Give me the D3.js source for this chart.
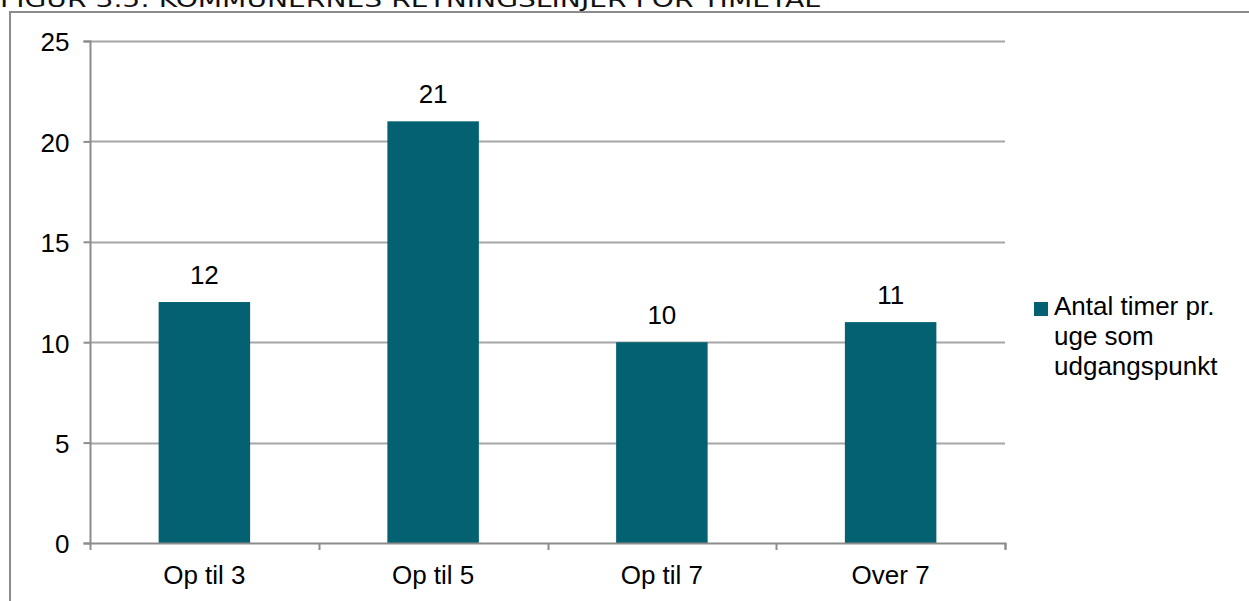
<!DOCTYPE html>
<html><head><meta charset="utf-8">
<script src="https://cdn.jsdelivr.net/npm/d3@7"></script>
<style>html,body{margin:0;padding:0;background:#fff;overflow:hidden}</style>
</head><body>
<svg id="c" width="1249" height="601"></svg>
<script>
const title = "FIGUR 3.5: KOMMUNERNES RETNINGSLINJER FOR TIMETAL";
const categories = ["Op til 3", "Op til 5", "Op til 7", "Over 7"];
const values = [12, 21, 10, 11];
const yTicks = [0, 5, 10, 15, 20, 25];
const seriesName = ["Antal timer pr.", "uge som", "udgangspunkt"];

const svg = d3.select("#c");
const barColor = "#036172";
const gridColor = "#a6a6a6";
const axisColor = "#8c8c8c";
const font = "Liberation Sans, Arial, sans-serif";
const fs = 26;

// title (cut off at top, as in the source)
svg.append("text").attr("x", 0).attr("y", 6.5)
  .attr("font-family", "DejaVu Sans, Verdana, sans-serif").attr("font-size", 21)
  .attr("fill", "#111").attr("textLength", 820).attr("lengthAdjust", "spacingAndGlyphs")
  .text(title);

// outer frame (left and top)
svg.append("path").attr("d", "M10,601 V12 H1249")
  .attr("fill", "none").attr("stroke", axisColor).attr("stroke-width", 2);

const x = d3.scaleBand().domain(categories).range([90, 1005]).paddingInner(0.6).paddingOuter(0.3);
const y = d3.scaleLinear().domain([0, 25]).range([543, 41]);

// gridlines
svg.append("g").selectAll("line").data(yTicks.filter(d => d > 0)).join("line")
  .attr("x1", 90).attr("x2", 1005)
  .attr("y1", d => Math.round(y(d)) + 0.5).attr("y2", d => Math.round(y(d)) + 0.5)
  .attr("stroke", gridColor).attr("stroke-width", 2);

// bars
svg.append("g").selectAll("rect").data(values).join("rect")
  .attr("x", (d, i) => x(categories[i])).attr("width", x.bandwidth())
  .attr("y", d => y(d)).attr("height", d => y(0) - y(d))
  .attr("fill", barColor);

// value labels
svg.append("g").selectAll("text").data(values).join("text")
  .attr("x", (d, i) => x(categories[i]) + x.bandwidth() / 2)
  .attr("y", d => y(d) - 18)
  .attr("text-anchor", "middle").attr("font-family", font).attr("font-size", fs)
  .attr("fill", "#000").text(d => d);

// y axis
const yAxis = d3.axisLeft(y).tickValues(yTicks).tickSize(7).tickPadding(14);
const gy = svg.append("g").attr("transform", "translate(90.5,0)").call(yAxis);
gy.select(".domain").attr("stroke", axisColor).attr("stroke-width", 2).attr("d", "M-7,543.5H0V41.5H-7");
gy.selectAll(".tick line").attr("stroke", axisColor).attr("stroke-width", 2);
gy.selectAll(".tick text").attr("font-family", font).attr("font-size", fs).attr("fill", "#000").attr("dy", "0.38em");

// x axis
const xAxis = d3.axisBottom(x).tickSize(0);
const gx = svg.append("g").attr("transform", "translate(0,543.5)").call(xAxis);
gx.select(".domain").attr("stroke", axisColor).attr("stroke-width", 2).attr("d", "M90,0H1005.5V6");
gx.selectAll(".tick line").remove();
gx.selectAll(".tick text").attr("font-family", font).attr("font-size", fs).attr("fill", "#000")
  .attr("y", 40).attr("dy", 0);
// category separator ticks
const step = (1005 - 90) / categories.length;
svg.append("g").selectAll("line").data(d3.range(categories.length + 1)).join("line")
  .attr("x1", i => Math.round(90 + i * step) + 0.5).attr("x2", i => Math.round(90 + i * step) + 0.5)
  .attr("y1", 543).attr("y2", 550)
  .attr("stroke", axisColor).attr("stroke-width", 2);

// legend
svg.append("rect").attr("x", 1034).attr("y", 302).attr("width", 14).attr("height", 14).attr("fill", barColor);
svg.append("g").selectAll("text").data(seriesName).join("text")
  .attr("x", 1054).attr("y", (d, i) => 315 + i * 30)
  .attr("font-family", font).attr("font-size", fs).attr("fill", "#000").text(d => d);
</script>
</body></html>
